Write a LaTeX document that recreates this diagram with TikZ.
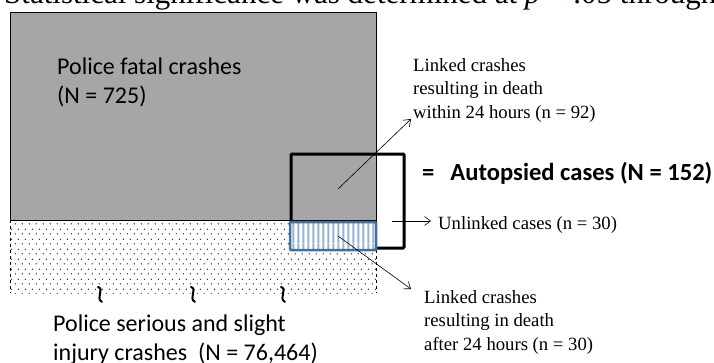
\documentclass[tikz,border=0pt]{standalone}
\usepackage{fontspec}
\setmainfont{Liberation Serif}
\newfontfamily\calibri{Carlito}
\usetikzlibrary{arrows.meta}
\usetikzlibrary{patterns}

\definecolor{fatalgray}{HTML}{A6A6A6}
\definecolor{stripeblue}{HTML}{95B3D7}
\definecolor{edgeblue}{HTML}{41719C}

\pgfdeclarepatternformonly{sparse dots}{\pgfqpoint{0pt}{0pt}}{\pgfqpoint{7pt}{9.6pt}}{\pgfqpoint{7pt}{9.6pt}}{%
  \pgfpathcircle{\pgfqpoint{1.5pt}{1.2pt}}{0.75pt}%
  \pgfpathcircle{\pgfqpoint{5pt}{6pt}}{0.75pt}%
  \pgfusepath{fill}}
\pgfdeclarepatternformonly{blue stripes}{\pgfqpoint{0pt}{0pt}}{\pgfqpoint{5.3pt}{40pt}}{\pgfqpoint{5.3pt}{40pt}}{%
  \pgfpathrectangle{\pgfqpoint{1.6pt}{0pt}}{\pgfqpoint{2.1pt}{40pt}}%
  \pgfusepath{fill}}

\begin{document}
\begin{tikzpicture}[x=1pt, y=-1pt,
    serif/.style={font=\fontsize{18.7}{23.3}\selectfont, align=left, inner sep=0pt, anchor=base west},
    sans/.style={font=\calibri\fontsize{24}{29}\selectfont, align=left, inner sep=0pt, anchor=base west},
    thinarrow/.style={-{Straight Barb[length=6pt, width=9pt]}, line width=0.6pt},
    breakmark/.style={line width=2pt, line cap=round}]
  \useasboundingbox (0,0) rectangle (714,362);
  \clip (0,0) rectangle (714,362);

  \node[anchor=base west, inner sep=0pt, font=\fontsize{31}{31}\selectfont] (heading) at (4,3) {Statistical significance was determined at \textit{p} < .05 through};

  % fatal and injury crashes
  \fill[pattern=sparse dots, pattern color=black!85] (10,220) rectangle (376,293);
  \draw[dashed, line width=0.8pt] (10,220) -- (10,293);
  \draw[dashed, line width=0.8pt] (376,220) -- (376,293);
  \draw[line width=0.8pt, fill=fatalgray] (10,12) rectangle (376,220);

  % autopsied cases
  \draw[line width=3pt, rounded corners=1pt] (291,154) rectangle (404,248);
  \fill[white] (290,222) rectangle (376,250);
  \fill[pattern=blue stripes, pattern color=stripeblue] (290,222) rectangle (376,250);
  \draw[edgeblue, line width=2.5pt, rounded corners=1pt] (290,222) rectangle (376,250);

  \foreach \x in {100,193,283}
    \draw[breakmark] (\x-2,287) .. controls (\x+5,289) and (\x-5,298) .. (\x+2,302);

  \node[sans] (fatal) at (57,103) {Police fatal crashes\\(N = 725)};
  \node[sans] (injury) at (53,360) {Police serious and slight\\injury crashes\ \ (N = 76,464)};

  \node[serif] (within) at (413,118) {Linked crashes\\resulting in death\\within 24 hours (n = 92)};
  \node[serif] (unlinked) at (438,229) {Unlinked cases (n = 30)};
  \node[serif] (after) at (424,350) {Linked crashes\\resulting in death\\after 24 hours (n = 30)};
  \node[anchor=base west, inner sep=0pt, font=\calibri\bfseries\fontsize{24.6}{25}\selectfont] (autopsied) at (422,180) {=\hspace{16pt}Autopsied cases (N = 152)};

  \coordinate (withinTail) at (338,189);
  \coordinate (withinTip) at (411,119);
  \coordinate (unlinkedTail) at (392,221);
  \coordinate (unlinkedTip) at (431,221);
  \coordinate (afterTail) at (338,236);
  \coordinate (afterTip) at (411,289);
  \draw[thinarrow] (withinTail) -- (withinTip);
  \draw[thinarrow] (unlinkedTail) -- (unlinkedTip);
  \draw[thinarrow] (afterTail) -- (afterTip);
\end{tikzpicture}
\end{document}
